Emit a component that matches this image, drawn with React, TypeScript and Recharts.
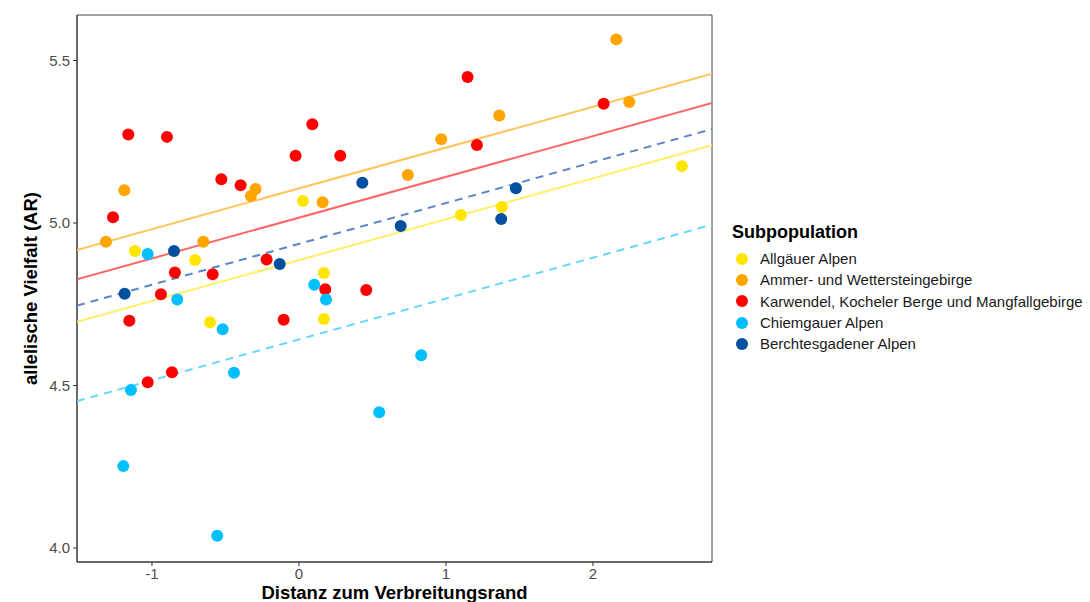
import React from "react";
import {
  ScatterChart,
  Scatter,
  XAxis,
  YAxis,
  ReferenceArea,
} from "recharts";

// Punkte je Subpopulation (Distanz zum Verbreitungsrand vs. allelische Vielfalt)
const allgaeuX = [-1.116, -0.707, -0.605, 0.027, 0.17, 0.17, 1.102, 1.381, 2.605];
const allgaeuY = [4.914, 4.886, 4.695, 5.068, 4.846, 4.705, 5.025, 5.049, 5.175];

const ammerX = [-1.313, -1.188, -0.651, -0.327, -0.295, 0.161, 0.741, 0.968, 1.363, 2.159, 2.247];
const ammerY = [4.942, 5.101, 4.942, 5.083, 5.105, 5.064, 5.148, 5.258, 5.331, 5.565, 5.372];

const karwendelX = [
  -1.265, -1.161, -1.154, -1.029, -0.939, -0.898, -0.864, -0.844, -0.587, -0.528,
  -0.397, -0.22, -0.104, -0.023, 0.091, 0.179, 0.281, 0.458, 1.147, 1.211, 2.073,
];
const karwendelY = [
  5.018, 5.272, 4.699, 4.51, 4.781, 5.265, 4.541, 4.848, 4.842, 5.135,
  5.116, 4.888, 4.702, 5.207, 5.304, 4.796, 5.207, 4.794, 5.449, 5.24, 5.367,
];

const chiemgauX = [-1.195, -1.143, -1.029, -0.828, -0.556, -0.519, -0.442, 0.104, 0.184, 0.546, 0.832];
const chiemgauY = [4.252, 4.486, 4.905, 4.765, 4.038, 4.673, 4.539, 4.81, 4.765, 4.418, 4.593];

const berchtesX = [-1.186, -0.85, -0.131, 0.431, 0.692, 1.376, 1.476];
const berchtesY = [4.782, 4.914, 4.874, 5.124, 4.991, 5.012, 5.107];

// Regressionsgeraden (Endpunkte am Rand des Plotbereichs)
const fitX = [-1.51, 2.81];
const allgaeuFit = [4.696, 5.239];
const ammerFit = [4.917, 5.459];
const karwendelFit = [4.827, 5.369];
const chiemgauFit = [4.452, 4.995];
const berchtesFit = [4.746, 5.289];

const xTicks = [-1, 0, 1, 2];
const yTicks = [4.0, 4.5, 5.0, 5.5];

const groups = [
  { name: "Allgäuer Alpen", color: "#FFE600", xs: allgaeuX, ys: allgaeuY, fit: allgaeuFit, dashed: false },
  { name: "Ammer- und Wettersteingebirge", color: "#FFA500", xs: ammerX, ys: ammerY, fit: ammerFit, dashed: false },
  { name: "Karwendel, Kocheler Berge und Mangfallgebirge", color: "#FF0000", xs: karwendelX, ys: karwendelY, fit: karwendelFit, dashed: false },
  { name: "Chiemgauer Alpen", color: "#00BFFF", xs: chiemgauX, ys: chiemgauY, fit: chiemgauFit, dashed: true },
  { name: "Berchtesgadener Alpen", color: "#0050A0", xs: berchtesX, ys: berchtesY, fit: berchtesFit, dashed: true },
];

const lineColors: Record<string, string> = {
  "Allgäuer Alpen": "#FFEE66",
  "Ammer- und Wettersteingebirge": "#FFC55C",
  "Karwendel, Kocheler Berge und Mangfallgebirge": "#FF6666",
  "Chiemgauer Alpen": "#66D6FF",
  "Berchtesgadener Alpen": "#5C86C6",
};

const FONT = "'Liberation Sans', Arial, sans-serif";

const toPoints = (xs: number[], ys: number[]) => xs.map((x, i) => ({ x, y: ys[i] }));

const Dot = (color: string) => (props: any) => (
  <circle cx={props.cx} cy={props.cy} r={6} fill={color} />
);

const LegendBox = () => (
  <div style={{ position: "absolute", left: 732, top: 222, fontFamily: FONT }}>
    <div style={{ fontSize: 18, fontWeight: "bold", color: "#000", lineHeight: "20px", marginBottom: 6 }}>
      Subpopulation
    </div>
    {groups.map((g) => (
      <div key={g.name} style={{ display: "flex", alignItems: "center", height: 21.3 }}>
        <svg width={20} height={14} style={{ marginRight: 8 }}>
          <circle cx={10} cy={7} r={6} fill={g.color} />
        </svg>
        <span style={{ fontSize: 15, color: "#1a1a1a", whiteSpace: "nowrap" }}>{g.name}</span>
      </div>
    ))}
  </div>
);

export default function App() {
  return (
    <div style={{ position: "fixed", left: 0, top: 0, width: 1090, height: 602, background: "#fff", overflow: "hidden" }}>
      <ScatterChart
        width={1090}
        height={602}
        margin={{ top: 15, right: 378, bottom: 0, left: 0 }}
        style={{ fontFamily: FONT }}
      >
        <XAxis
          type="number"
          dataKey="x"
          domain={[-1.51, 2.81]}
          ticks={xTicks}
          allowDataOverflow
          height={40}
          tickSize={4}
          tickMargin={2}
          tick={{ fill: "#4D4D4D", fontSize: 15 }}
          axisLine={{ stroke: "#333" }}
          tickLine={{ stroke: "#333" }}
          label={(props: any) => {
            const vb = props.viewBox;
            return (
              <text
                x={vb.x + vb.width / 2}
                y={599}
                textAnchor="middle"
                fontSize={18.5}
                fontWeight="bold"
                fill="#000"
              >
                Distanz zum Verbreitungsrand
              </text>
            );
          }}
        />
        <YAxis
          type="number"
          dataKey="y"
          domain={[3.957, 5.64]}
          ticks={yTicks}
          allowDataOverflow
          width={77}
          tickSize={4}
          tickMargin={3}
          tickFormatter={(v: number) => v.toFixed(1)}
          tick={{ fill: "#4D4D4D", fontSize: 15 }}
          axisLine={{ stroke: "#333" }}
          tickLine={{ stroke: "#333" }}
          label={(props: any) => {
            const vb = props.viewBox;
            const cy = vb.y + vb.height / 2;
            return (
              <text
                x={30}
                y={cy}
                transform={`rotate(-90, 30, ${cy})`}
                textAnchor="middle"
                dominantBaseline="central"
                fontSize={18.5}
                fontWeight="bold"
                fill="#000"
              >
                allelische Vielfalt (AR)
              </text>
            );
          }}
        />
        <ReferenceArea
          x1={-1.51}
          x2={2.81}
          y1={3.957}
          y2={5.64}
          fill="none"
          stroke="#444"
          strokeWidth={1}
          ifOverflow="visible"
        />
        {groups.map((g) => (
          <Scatter
            key={`fit-${g.name}`}
            data={toPoints(fitX, g.fit)}
            legendType="none"
            isAnimationActive={false}
            line={{
              stroke: lineColors[g.name],
              strokeWidth: 2,
              strokeDasharray: g.dashed ? "8 6" : undefined,
            }}
            shape={() => <g />}
          />
        ))}
        {groups.map((g) => (
          <Scatter
            key={g.name}
            name={g.name}
            data={toPoints(g.xs, g.ys)}
            fill={g.color}
            isAnimationActive={false}
            shape={Dot(g.color)}
          />
        ))}
      </ScatterChart>
      <LegendBox />
    </div>
  );
}
